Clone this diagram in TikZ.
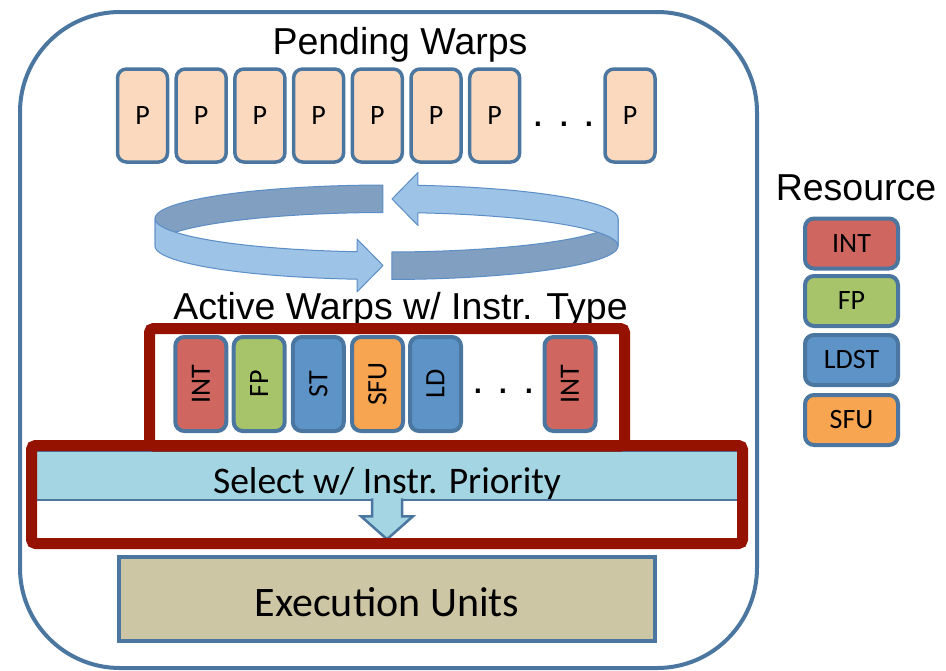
\documentclass[tikz,border=0pt]{standalone}
\usepackage{fontspec}
\setmainfont{Carlito}
\newfontfamily\headfont{Liberation Sans}

\definecolor{edgeblue}{HTML}{4A76A0}
\definecolor{peach}{HTML}{FAD9BE}
\definecolor{intred}{HTML}{CF6660}
\definecolor{fpgreen}{HTML}{A8C46A}
\definecolor{ldblue}{HTML}{5E93C8}
\definecolor{sfuorange}{HTML}{F8A552}
\definecolor{frame}{HTML}{951100}
\definecolor{selfill}{HTML}{A3D5E3}
\definecolor{execfill}{HTML}{CDC6A5}
\definecolor{ringlight}{HTML}{9DC3E6}
\definecolor{ringdark}{HTML}{819FC0}
\definecolor{ringedge}{HTML}{5B8DC6}

\tikzset{
  heading/.style={font=\headfont\fontsize{37.5}{41}\selectfont, inner sep=0pt, anchor=base},
  warpbox/.style={draw=edgeblue, line width=3.5pt, rounded corners=9pt,
    minimum width=50pt, minimum height=93pt, inner sep=0pt,
    font=\fontsize{28}{32}\selectfont},
  pbox/.style={warpbox, fill=peach},
  abox/.style={warpbox, line width=4pt, rotate=90, minimum width=94pt, minimum height=51pt},
  resbox/.style={draw=edgeblue, line width=4pt, rounded corners=9pt,
    minimum width=93pt, minimum height=50pt, inner sep=0pt,
    font=\fontsize{28}{32}\selectfont},
  dotrow/.style={font=\headfont\fontsize{42}{44}\selectfont, inner sep=0pt, anchor=base},
  redframe/.style={draw=frame, line width=11pt, rounded corners=4pt},
  ringpart/.style={draw=ringedge, line width=1pt, line join=round},
}

% ellipses of the rotating ribbon: upper rim and lower rim
\def\rcx{386.5}\def\rrx{231.5}\def\rry{33.5}\def\rtop{218.5}\def\rbot{246}

\begin{document}
\begin{tikzpicture}[x=1pt, y=-1pt]
\useasboundingbox (0,0) rectangle (946,670);

% outer rounded enclosure
\draw[draw=edgeblue, line width=4pt, rounded corners=100pt] (20,12) rectangle (757,668);

% pending warps
\node[heading] (pendtitle) at (400,54) {Pending Warps};
\foreach \i in {0,...,6}
  \node[pbox] (p\i) at ({142.5+58.7*\i},115.5) {P};
\node[dotrow] (pdots) at (564,126) {.\,\,.\,\,.};
\node[pbox] (p7) at (630,115.5) {P};

% rotating ribbon: hidden inner faces first
\filldraw[ringpart, fill=ringdark]
  plot[domain=269.13:180, samples=50] ({\rcx+\rrx*cos(\x)},{\rtop+\rry*sin(\x)})
  -- plot[domain=180:269.13, samples=50] ({\rcx+\rrx*cos(\x)},{\rbot+\rry*sin(\x)})
  -- cycle;
\filldraw[ringpart, fill=ringdark]
  plot[domain=88.64:0, samples=50] ({\rcx+\rrx*cos(\x)},{\rtop+\rry*sin(\x)})
  -- plot[domain=0:88.64, samples=50] ({\rcx+\rrx*cos(\x)},{\rbot+\rry*sin(\x)})
  -- cycle;
% front ribbon with arrow heads
\filldraw[ringpart, fill=ringlight]
  plot[domain=180:97.3, samples=50] ({\rcx+\rrx*cos(\x)},{\rtop+\rry*sin(\x)})
  -- (357,239) -- (383,265.5) -- (357,292)
  -- plot[domain=97.3:180, samples=50] ({\rcx+\rrx*cos(\x)},{\rbot+\rry*sin(\x)})
  -- cycle;
\filldraw[ringpart, fill=ringlight]
  plot[domain=360:277.8, samples=50] ({\rcx+\rrx*cos(\x)},{\rtop+\rry*sin(\x)})
  -- (418,172.5) -- (392,199) -- (418,225.5)
  -- plot[domain=277.8:360, samples=50] ({\rcx+\rrx*cos(\x)},{\rbot+\rry*sin(\x)})
  -- cycle;

% active warps
\node[heading] (acttitle) at (400.5,319) {Active Warps w/ Instr. Type};
\node[abox, fill=intred]    (a0) at (200.8,384) {INT};
\node[abox, fill=fpgreen]   (a1) at (259.2,384) {FP};
\node[abox, fill=ldblue]    (a2) at (318.3,384) {ST};
\node[abox, fill=sfuorange] (a3) at (377.5,384) {SFU};
\node[abox, fill=ldblue]    (a4) at (435.5,384) {LD};
\node[dotrow] (adots) at (503.5,393) {.\,\,.\,\,.};
\node[abox, fill=intred]    (a5) at (570,384) {INT};

% selection stage
\node[fill=selfill, draw=edgeblue, line width=2.5pt, anchor=base,
      minimum width=711pt, inner xsep=0pt, inner ysep=0pt,
      text height=42pt, text depth=7pt,
      font=\fontsize{37.5}{41}\selectfont] (sel) at (387,493) {Select w/ Instr. Priority};
\filldraw[fill=selfill, draw=edgeblue, line width=2.5pt, line join=miter]
  ([xshift=-15pt,yshift=3pt]sel.south) -- ++(0,18) -- ++(-11,0)
  -- ([yshift=-38pt]sel.south) coordinate (tip)
  -- ++(26,-23) -- ++(-11,0) -- ([xshift=15pt,yshift=3pt]sel.south);

% highlight frames
\draw[redframe] (149.5,328.5) rectangle (624.5,446);
\draw[redframe] (31.5,445.5) rectangle (742.5,543.5);

% execution units
\node[fill=execfill, draw=edgeblue, line width=4pt, anchor=base,
      minimum width=536pt, inner xsep=0pt, inner ysep=0pt,
      text height=59pt, text depth=25pt,
      font=\fontsize{42}{46}\selectfont] (exec) at (387,616) {Execution Units};

% resource legend
\node[heading] (restitle) at (856,200) {Resource};
\node[resbox, fill=intred]    (r0) at (851.5,243.5) {INT};
\node[resbox, fill=fpgreen]   (r1) at (851.5,301) {FP};
\node[resbox, fill=ldblue]    (r2) at (851.5,360) {LDST};
\node[resbox, fill=sfuorange] (r3) at (851.5,420) {SFU};
\end{tikzpicture}
\end{document}
